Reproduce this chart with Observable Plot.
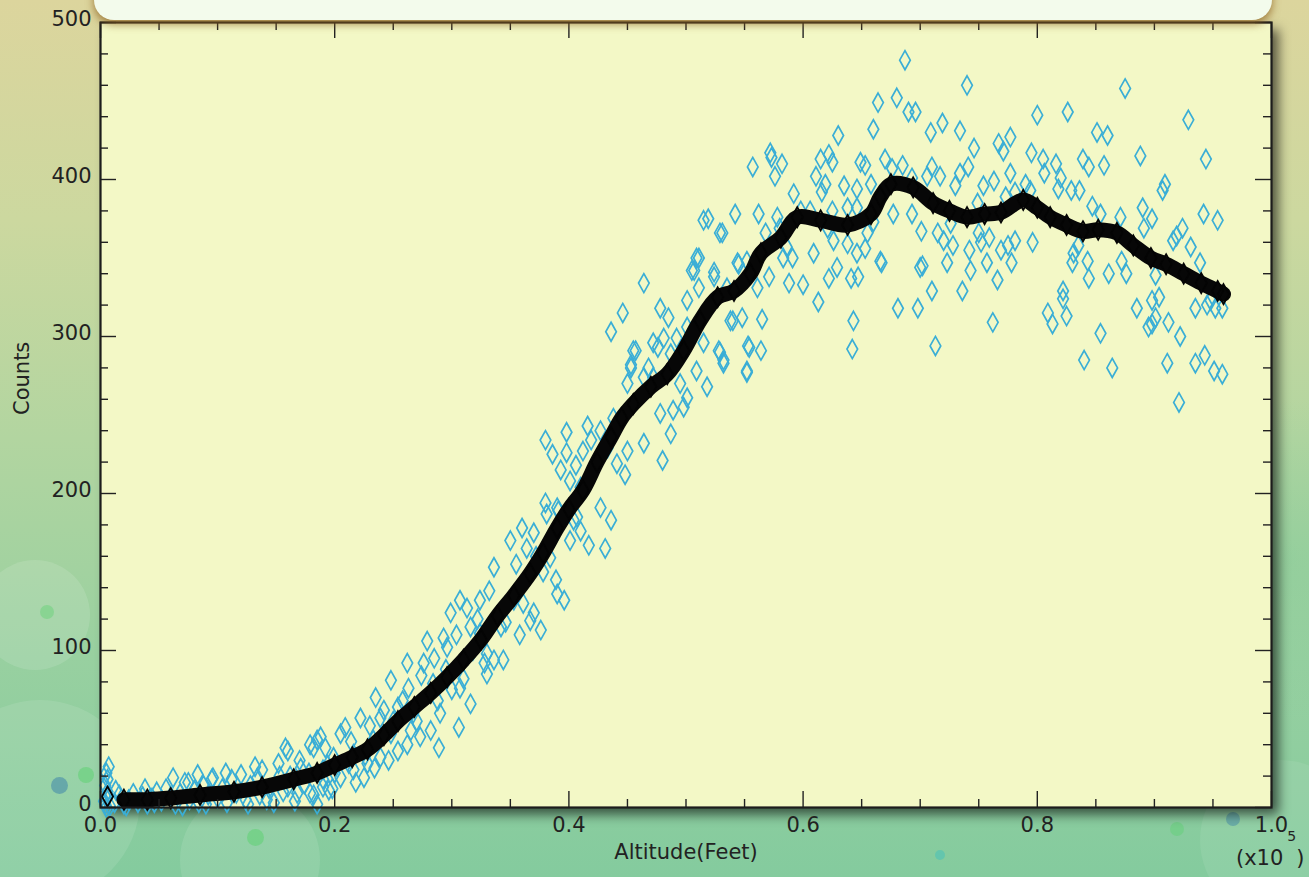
<!DOCTYPE html>
<html><head><meta charset="utf-8">
<script src="https://cdn.jsdelivr.net/npm/d3@7"></script>
<script src="https://cdn.jsdelivr.net/npm/@observablehq/plot@0.6"></script>
<style>
html,body{margin:0;padding:0;width:1309px;height:877px;overflow:hidden;}
body{position:relative;
 background:
  radial-gradient(circle at 1290px 560px, rgba(120,200,150,0.35) 0, rgba(120,200,150,0) 160px),
  linear-gradient(to bottom, #dcd59d 0%, #ccd89f 25%, #b2d5a0 50%, #98d0a0 75%, #84cb9e 100%);}
.deco{position:absolute;border-radius:50%;pointer-events:none;}
#topbox{position:absolute;left:94px;top:-40px;width:1178px;height:60px;background:#f3fbec;border-radius:0 0 20px 20px;box-shadow:0 4px 9px rgba(140,95,30,0.75);z-index:3;}
#chart{position:absolute;left:0;top:0;z-index:2;}
</style></head>
<body>
<div class="deco" style="left:-20px;top:560px;width:110px;height:110px;background:rgba(255,255,255,0.12)"></div>
<div class="deco" style="left:-60px;top:700px;width:200px;height:200px;background:rgba(255,255,255,0.1)"></div>
<div class="deco" style="left:180px;top:790px;width:140px;height:140px;background:rgba(255,255,255,0.1)"></div>
<div class="deco" style="left:1200px;top:760px;width:160px;height:160px;background:rgba(255,255,255,0.08)"></div>
<div class="deco" style="left:51px;top:777px;width:17px;height:17px;background:rgba(70,140,170,0.6)"></div>
<div class="deco" style="left:78px;top:767px;width:16px;height:16px;background:rgba(90,210,110,0.5)"></div>
<div class="deco" style="left:247px;top:829px;width:17px;height:17px;background:rgba(90,210,110,0.5)"></div>
<div class="deco" style="left:1226px;top:812px;width:14px;height:14px;background:rgba(70,140,170,0.5)"></div>
<div class="deco" style="left:1170px;top:822px;width:14px;height:14px;background:rgba(90,210,110,0.4)"></div>
<div class="deco" style="left:935px;top:850px;width:10px;height:10px;background:rgba(60,190,190,0.45)"></div>
<div class="deco" style="left:40px;top:605px;width:14px;height:14px;background:rgba(90,210,110,0.4)"></div>
<div id="topbox"></div>
<div id="chart"></div>
<script>
// ---- data: altitude in units of 1e5 feet, counts ----
const scatterPoints = [
[0.004,2],[0.005,6],[0.006,10],[0.004,14],[0.006,18],[0.005,22],[0.007,26],[0.003,4],[0.008,1],[0.005,0],
[0.012,3],[0.016,8],[0.02,2],[0.024,5],[0.028,9],[0.032,3],[0.036,7],[0.04,2],[0.044,6],[0.048,10],[0.013,11],[0.038,12],[0.022,1],[0.046,3],
[0.052,4],[0.056,12],[0.06,7],[0.064,2],[0.068,9],[0.072,16],[0.076,5],[0.08,11],[0.084,3],[0.088,14],[0.092,8],[0.096,19],[0.1,6],[0.062,19],[0.083,21],[0.09,2],[0.07,1],[0.075,16],[0.095,18],
[0.104,12],[0.108,3],[0.107,22],[0.112,18],[0.116,9],[0.12,21],[0.124,5],[0.128,14],[0.132,26],[0.136,8],[0.138,24],[0.144,12],[0.148,3],[0.152,28],[0.153,20],[0.156,10],[0.16,36],[0.126,2],[0.142,5],[0.134,19],
[0.162,20],[0.166,4],[0.17,30],[0.174,15],[0.178,22],[0.179,40],[0.182,8],[0.185,43],[0.19,18],[0.192,38],[0.194,27],[0.195,11],[0.198,12],[0.185,2],
[0.158,38],[0.182,38],[0.188,45],[0.205,47],[0.209,51],[0.222,57],[0.235,70],[0.248,81],[0.239,57],[0.254,64],[0.262,92],[0.263,76],[0.276,92],[0.279,106],[0.284,79],[0.293,108],[0.296,102],[0.299,124],[0.307,132],[0.313,127],[0.316,115],[0.324,132],[0.336,153],[0.35,170],[0.36,178],[0.37,175],[0.381,187],[0.39,191],[0.41,176],[0.417,167],[0.39,136],[0.396,132],[0.376,113],[0.367,119],[0.344,94],[0.336,94],[0.33,85],[0.316,66],[0.306,51],[0.289,38],[0.282,49],[0.273,45],[0.265,49],[0.254,36],[0.239,32],[0.228,28],[0.216,24],[0.205,19],[0.19,13],[0.179,9],[0.168,9],[0.16,13],[0.19,24],[0.225,19],[0.324,111],[0.342,115],[0.33,98],[0.353,132],[0.361,130],[0.37,124],[0.384,159],[0.387,172],[0.401,170],[0.404,183],[0.307,76],[0.288,68],[0.267,60],[0.248,47],[0.233,43],[0.216,34],[0.199,32],[0.171,25],
[0.2,22],[0.212,28],[0.214,42],[0.218,16],[0.226,33],[0.23,52],[0.234,25],[0.242,62],[0.246,30],[0.25,55],[0.258,68],[0.262,40],
[0.27,55],[0.274,84],[0.285,95],[0.29,60],[0.295,88],[0.3,75],[0.304,110],[0.31,82],[0.318,100],[0.322,120],[0.328,92],[0.332,138],[0.346,118],[0.355,155],[0.358,110],[0.364,165],[0.372,160],[0.378,150],
[0.38,234],[0.386,225],[0.398,239],[0.398,226],[0.406,218],[0.416,243],[0.419,234],[0.427,240],[0.436,303],[0.446,315],[0.45,270],[0.453,280],[0.457,291],[0.464,334],[0.468,280],[0.472,296],[0.481,299],[0.485,312],[0.492,299],[0.501,323],[0.505,342],[0.509,350],[0.511,331],[0.515,296],[0.518,268],[0.524,338],[0.528,291],[0.532,283],[0.538,310],[0.545,346],[0.552,278],[0.554,293],[0.529,366],[0.45,227],[0.464,232],[0.48,221],[0.487,238],[0.489,253],[0.498,255],[0.501,261],[0.478,251],[0.472,274],[0.464,274],[0.495,270],[0.509,278],[0.38,194],[0.391,189],[0.407,185],[0.427,191],[0.436,183],[0.41,204],[0.441,219],[0.438,248],[0.433,229],[0.412,227],[0.501,306],
[0.431,165],[0.393,215],[0.401,208],[0.408,199],[0.448,212],[0.389,145],
[0.687,476],[0.664,449],[0.68,452],[0.69,443],[0.696,443],[0.66,432],[0.63,428],[0.572,417],[0.573,414],[0.582,410],[0.557,408],[0.576,402],[0.615,413],[0.622,416],[0.625,411],[0.649,411],[0.653,409],[0.67,413],[0.676,407],[0.685,409],[0.611,402],[0.619,397],[0.592,391],[0.635,396],[0.646,394],[0.658,397],[0.616,392],[0.542,378],[0.562,378],[0.515,374],[0.519,375],[0.578,376],[0.598,380],[0.606,380],[0.625,380],[0.638,382],[0.646,382],[0.66,373],[0.677,378],[0.693,378],[0.531,366],[0.568,366],[0.58,369],[0.621,369],[0.655,366],[0.666,348],[0.591,350],[0.583,350],[0.609,353],[0.638,359],[0.646,353],[0.653,356],[0.511,350],[0.507,342],[0.544,347],[0.552,348],[0.524,341],[0.557,342],[0.571,338],[0.588,334],[0.6,333],[0.622,337],[0.629,344],[0.641,337],[0.647,338],[0.667,347],[0.7,344],[0.535,331],[0.54,310],[0.548,312],[0.565,311],[0.561,331],[0.613,322],[0.643,310],[0.642,292],[0.681,318],[0.698,318],[0.478,318],[0.553,294],[0.564,291],[0.532,285],[0.529,290],[0.552,277],[0.487,289],[0.476,293],[0.455,291],[0.453,282],[0.586,357],[0.626,361],
[0.74,460],[0.875,458],[0.719,436],[0.709,430],[0.734,431],[0.8,441],[0.826,443],[0.929,438],[0.851,430],[0.86,428],[0.777,427],[0.767,423],[0.771,418],[0.746,420],[0.795,417],[0.888,415],[0.944,413],[0.839,413],[0.844,408],[0.857,409],[0.805,413],[0.816,410],[0.806,404],[0.82,401],[0.71,408],[0.706,402],[0.717,402],[0.734,404],[0.741,408],[0.777,404],[0.754,396],[0.763,399],[0.73,396],[0.693,401],[0.79,397],[0.794,393],[0.818,394],[0.829,393],[0.836,393],[0.909,397],[0.907,393],[0.781,392],[0.773,389],[0.749,385],[0.847,383],[0.854,378],[0.871,376],[0.89,382],[0.898,375],[0.891,369],[0.942,378],[0.954,374],[0.701,367],[0.715,366],[0.726,372],[0.72,361],[0.728,358],[0.75,366],[0.752,360],[0.759,363],[0.769,355],[0.775,358],[0.781,361],[0.796,360],[0.831,353],[0.835,358],[0.916,361],[0.919,364],[0.924,369],[0.742,355],[0.723,347],[0.702,345],[0.743,342],[0.757,347],[0.778,347],[0.83,347],[0.844,337],[0.861,340],[0.872,348],[0.876,340],[0.901,339],[0.939,347],[0.766,336],[0.736,329],[0.71,329],[0.822,329],[0.822,324],[0.809,315],[0.813,308],[0.825,313],[0.885,318],[0.898,323],[0.904,325],[0.898,308],[0.901,312],[0.912,309],[0.922,300],[0.935,318],[0.948,323],[0.935,283],[0.943,288],[0.951,278],[0.958,276],[0.762,309],[0.713,294],[0.854,302],[0.84,285],[0.864,280],[0.911,283],[0.921,258],[0.931,357],[0.843,348],[0.945,320],[0.952,318],[0.958,318],[0.895,306]
];
const smoothPoints = [
[0.006,7],[0.02,5],[0.04,5],[0.06,6],[0.085,8],[0.114,10],[0.138,13],[0.165,18],[0.185,22],[0.2,27],[0.215,32],[0.228,37],[0.242,46],[0.254,55],[0.268,64],[0.282,73],[0.296,83],[0.31,94],[0.325,107],[0.339,122],[0.353,135],[0.367,149],[0.378,162],[0.39,178],[0.4,190],[0.412,202],[0.424,220],[0.436,236],[0.445,248],[0.455,257],[0.47,268],[0.484,276],[0.498,291],[0.512,310],[0.527,325],[0.541,329],[0.555,340],[0.564,353],[0.581,363],[0.595,376],[0.615,374],[0.638,371],[0.658,378],[0.666,389],[0.675,397],[0.694,395],[0.711,385],[0.725,380],[0.74,376],[0.755,378],[0.769,379],[0.788,387],[0.8,382],[0.811,376],[0.825,371],[0.839,367],[0.852,368],[0.868,366],[0.882,358],[0.897,350],[0.91,346],[0.925,340],[0.94,334],[0.954,329],[0.959,327]
];
const xMajorTicks = [0, 0.2, 0.4, 0.6, 0.8, 1.0];
const xMinorTicks = [0.05,0.1,0.15,0.25,0.3,0.35,0.45,0.5,0.55,0.65,0.7,0.75,0.85,0.9,0.95];
const yMajorTicks = [0, 100, 200, 300, 400, 500];
const yMinorTicks = [20,40,60,80,120,140,160,180,220,240,260,280,320,340,360,380,420,440,460,480];
const xTickLabels = ["0.0","0.2","0.4","0.6","0.8","1.0"];
const yTickLabels = ["0","100","200","300","400","500"];
const xTitle = "Altitude(Feet)";
const yTitle = "Counts";
const xExponent = ["(x10", "5", ")"];

// ---- layout ----
const W = 1309, H = 877;
const mL = 100, mR = 38, mT = 22, mB = 70;
const plotW = W - mL - mR, plotH = H - mT - mB;
const xDom = [0, 1], yDom = [0, 500];
const majPx = 16, minPx = 8;
const yLen = px => px * (yDom[1] - yDom[0]) / plotH;
const xLen = px => px * (xDom[1] - xDom[0]) / plotW;

const tallDiamond = {
  draw(ctx, size) {
    const r = Math.sqrt(size / Math.PI);
    const w = r * 0.56;
    ctx.moveTo(0, -r); ctx.lineTo(w, 0); ctx.lineTo(0, r); ctx.lineTo(-w, 0); ctx.closePath();
  }
};
const FONT = "'DejaVu Sans', 'Liberation Sans', sans-serif";
const ink = "#222";

const plot = Plot.plot({
  width: W, height: H,
  marginLeft: mL, marginRight: mR, marginTop: mT, marginBottom: mB,
  x: {domain: xDom, axis: null},
  y: {domain: yDom, axis: null},
  style: {background: "transparent", overflow: "visible", fontFamily: FONT},
  marks: [
    Plot.frame({fill: "#f3f8c6", stroke: "none"}),
    Plot.dot(scatterPoints, {x: d => d[0], y: d => d[1], symbol: tallDiamond, r: 9.5, stroke: "#3aaed6", strokeWidth: 1.7, fill: "none"}),
    Plot.line(smoothPoints.slice(1), {x: d => d[0], y: d => d[1], stroke: "#070707", strokeWidth: 15, curve: "catmull-rom"}),
    Plot.dot(smoothPoints, {x: d => d[0], y: d => d[1], symbol: tallDiamond, r: 10, stroke: "#040404", strokeWidth: 1.8, fill: "none"}),
    // inward ticks on all four sides
    Plot.ruleX(xMajorTicks, {x: d => d, y1: yDom[0], y2: yDom[0] + yLen(majPx), stroke: ink, strokeWidth: 1.4}),
    Plot.ruleX(xMinorTicks, {x: d => d, y1: yDom[0], y2: yDom[0] + yLen(minPx), stroke: ink, strokeWidth: 1.4}),
    Plot.ruleX(xMajorTicks, {x: d => d, y1: yDom[1], y2: yDom[1] - yLen(majPx), stroke: ink, strokeWidth: 1.4}),
    Plot.ruleX(xMinorTicks, {x: d => d, y1: yDom[1], y2: yDom[1] - yLen(minPx), stroke: ink, strokeWidth: 1.4}),
    Plot.ruleY(yMajorTicks, {y: d => d, x1: xDom[0], x2: xDom[0] + xLen(majPx), stroke: ink, strokeWidth: 1.4}),
    Plot.ruleY(yMinorTicks, {y: d => d, x1: xDom[0], x2: xDom[0] + xLen(minPx), stroke: ink, strokeWidth: 1.4}),
    Plot.ruleY(yMajorTicks, {y: d => d, x1: xDom[1], x2: xDom[1] - xLen(majPx), stroke: ink, strokeWidth: 1.4}),
    Plot.ruleY(yMinorTicks, {y: d => d, x1: xDom[1], x2: xDom[1] - xLen(minPx), stroke: ink, strokeWidth: 1.4}),
    Plot.frame({stroke: "#1c1c1c", strokeWidth: 2.2}),
    // tick labels
    Plot.text(xMajorTicks, {x: d => d, frameAnchor: "bottom", dy: 24, text: (d, i) => xTickLabels[i], fontSize: 21, fill: ink}),
    Plot.text(yMajorTicks, {y: d => d, frameAnchor: "left", dx: -9, dy: -3, textAnchor: "end", text: (d, i) => yTickLabels[i], fontSize: 21, fill: ink}),
    // titles
    Plot.text([xTitle], {frameAnchor: "bottom", dy: 51, text: d => d, fontSize: 21, fill: ink}),
    Plot.text([yTitle], {frameAnchor: "left", dx: -78, rotate: -90, text: d => d, fontSize: 21, fill: ink})
  ]
});
document.getElementById("chart").appendChild(plot);

// drop shadow under plot area
const frames = plot.querySelectorAll('[aria-label="frame"]');
if (frames.length) frames[0].style.filter = "drop-shadow(7px 7px 6px rgba(0,0,0,0.6))";

// exponent label (x10^5) below the last tick label
const exp = d3.select(plot).append("text")
  .attr("x", W - mR - 35).attr("y", H - 12)
  .attr("text-anchor", "start")
  .attr("font-family", FONT).attr("font-size", 21).attr("fill", ink);
exp.append("tspan").text(xExponent[0]);
exp.append("tspan").attr("dx", 4).attr("dy", -24).attr("font-size", 14).text(xExponent[1]);
exp.append("tspan").attr("dy", 24).text(xExponent[2]);
</script>
</body></html>
